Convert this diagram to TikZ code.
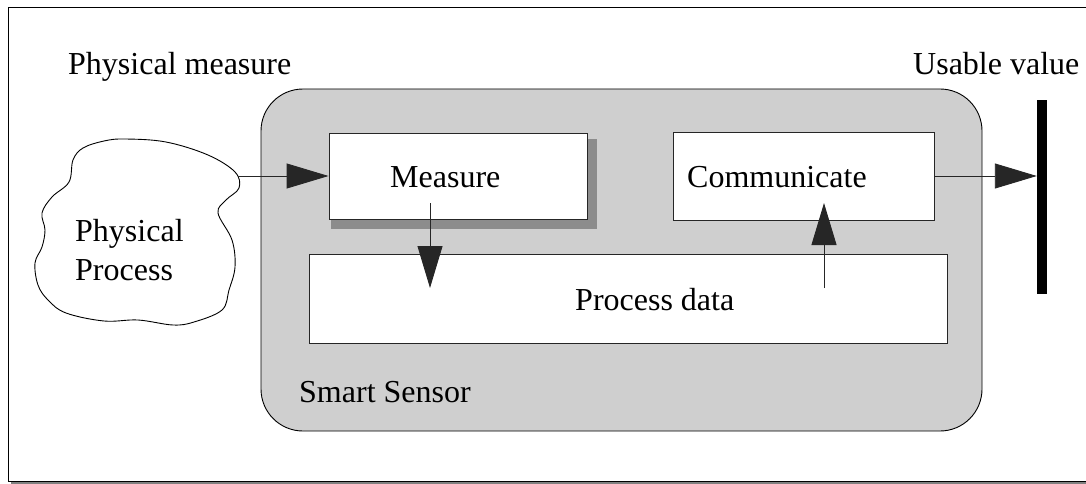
\documentclass[tikz,border=0pt]{standalone}
\usepackage{fontspec}
\setmainfont{Liberation Serif}
\usetikzlibrary{arrows.meta}
\definecolor{sensorgray}{RGB}{207,207,207}
\definecolor{shadowgray}{RGB}{140,140,140}
\definecolor{framegray}{RGB}{128,128,128}
\begin{document}
\begin{tikzpicture}[x=1pt,y=-1pt,
  lbl/.style={inner sep=0pt,anchor=base west,font=\fontsize{32}{38}\selectfont},
  boxw/.style={draw=black!85,line width=0.9pt,fill=white,inner sep=0pt},
  arr/.style={draw=black!85,line width=0.9pt,-{Triangle[length=42pt,width=25pt]}}]
\useasboundingbox (0,0) rectangle (1086,484);
% outer frame
\fill[white] (0,0) rectangle (1086,484);
\draw[framegray,line width=2pt] (11,483) -- (1090,483);
\draw[black,line width=1pt] (1095,8) -- (8,8) -- (8,481) -- (1095,481);
% labels outside
\node[lbl] (pm) at (68,75) {Physical measure};
\node[lbl] (uv) at (913,75) {Usable value};
% smart sensor
\draw[black,line width=0.9pt,fill=sensorgray,rounded corners=42pt] (261,89) rectangle (982,431);
\node[lbl] (ss) at (299,402) {Smart Sensor};
% cloud
\draw[black,line width=0.9pt,fill=white] plot[smooth cycle,tension=0.6] coordinates {
 (125,139) (166,142) (208,155) (235,172) (239,188) (226,200) (218,213) (232,240)
 (235,267) (229,290) (222,310) (194,322) (173,325) (138,320) (104,321) (66,313)
 (48,300) (38,285) (35,263) (42,247) (45,230) (42,213) (52,197) (69,182)
 (73,160) (83,148) (104,141)};
\node[lbl] (pp1) at (75,241) {Physical};
\node[lbl] (pp2) at (75,280) {Process};
\coordinate (cloudR) at (238,176);
% measure
\fill[shadowgray] (331,139) rectangle (597,229);
\node[boxw,minimum width=258pt,minimum height=86pt] (meas) at (458,176) {};
\node[lbl] (measT) at (390,187) {Measure};
% communicate
\node[boxw,minimum width=261pt,minimum height=88pt] (comm) at (803.5,176) {};
\node[lbl] (commT) at (687,187) {Communicate};
% process data
\node[boxw,minimum width=638pt,minimum height=89pt] (proc) at (628,298.5) {};
\node[lbl] (procT) at (575,310) {Process data};
% usable value bar
\node[fill=black,inner sep=0pt,minimum width=10pt,minimum height=194pt] (bar) at (1042,197) {};
% connectors
\draw[arr] (cloudR) -- (meas.west);
\draw[arr] (comm.east) -- (comm.east -| bar.west);
\coordinate (m1) at (430,203);
\coordinate (p1) at (430,288);
\draw[arr] (m1) -- (p1);
\coordinate (p2) at (824,288);
\coordinate (c1) at (824,203);
\draw[arr] (p2) -- (c1);
\end{tikzpicture}
\end{document}
